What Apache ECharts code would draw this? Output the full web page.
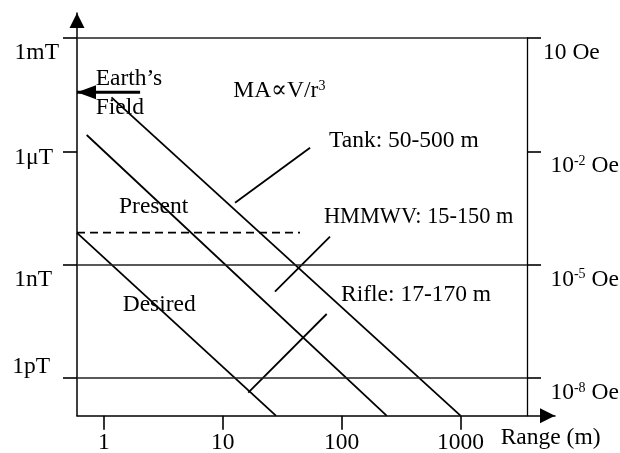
<!DOCTYPE html>
<html>
<head>
<meta charset="utf-8">
<script src="https://cdn.jsdelivr.net/npm/echarts@6/dist/echarts.min.js"></script>
<style>
  html, body { margin: 0; padding: 0; background: #fff; }
  #chart { width: 620px; height: 453px; }
</style>
</head>
<body>
<div id="chart"></div>
<script>
// ---- axis extents (range in metres, field in tesla) ----
const rangeLimits = [0.595, 3625];
const fieldLimits = [1e-13, 1e-3];

// ---- tick marks and their labels ----
const rangeTicks = [1, 10, 100, 1000];
const rangeTickLabels = ['1', '10', '100', '1000'];
const fieldTicks = [1e-12, 1e-9, 1e-6, 1e-3];
const teslaLabels = ['1pT', '1nT', '1\u03bcT', '1mT'];
const oerstedExponents = [-8, -5, -2, 1];

// ---- target anomaly fall-off, MA ∝ V/r³ ----
const rifleRange = [0.595, 28];
const rifleField = [6.9e-9, 1e-13];
const hmmwvRange = [0.718, 239];
const hmmwvField = [2.7e-6, 1e-13];
const tankRange = [1.16, 1000];
const tankField = [2.69e-5, 1e-13];

// ---- sensor sensitivity levels ----
const presentRange = [0.595, 44.7];
const presentField = [7.0e-9, 7.0e-9];
const referenceLevels = [1e-9, 1e-12];

// ---- Earth's field marker ----
const earthRange = [2.02, 0.595];
const earthField = [3.65e-5, 3.65e-5];

// ---- leader lines from the target captions ----
const tankLeaderRange = [54.3, 12.7];
const tankLeaderField = [1.25e-6, 4.36e-8];
const hmmwvLeaderRange = [79.9, 27.5];
const hmmwvLeaderField = [5.48e-9, 1.92e-10];
const rifleLeaderRange = [74.9, 16.4];
const rifleLeaderField = [4.93e-11, 4.06e-13];

const LOG = Math.log10;
const INK = '#000';
const FAMILY = '"Liberation Serif", "DejaVu Serif", serif';
const FS = 23.5;

// both axes are logarithmic: plot log10 of the values on linear value axes
const pair = (xs, ys) => xs.map((x, i) => [LOG(x), LOG(ys[i])]);
const xMin = LOG(rangeLimits[0]);
const xMax = LOG(rangeLimits[1]);
const yMin = LOG(fieldLimits[0]);
const yMax = LOG(fieldLimits[1]);

const lineSeries = (name, xs, ys, style) => ({
  type: 'line',
  name,
  xAxisIndex: 0,
  yAxisIndex: 0,
  data: pair(xs, ys),
  symbol: 'none',
  showSymbol: false,
  silent: true,
  animation: false,
  lineStyle: Object.assign({ color: INK, width: 1.8 }, style || {})
});

const tickStyle = { color: INK, width: 1.6 };
const noSplit = { show: false };

// per-label nudges of the tesla labels (vertical shift, right padding)
const teslaNudge = [[-11.5, 9], [15.7, 7], [6.5, 6], [15, 0]];
const teslaRich = {};
teslaNudge.forEach(([dy, pr], i) => {
  teslaRich['t' + i] = {
    fontSize: FS,
    fontFamily: FAMILY,
    color: INK,
    padding: dy >= 0 ? [2 * dy, pr, 0, 0] : [0, pr, -2 * dy, 0]
  };
});

const findIndex = (ticks, v) => ticks.findIndex(t => Math.abs(LOG(t) - v) < 1e-6);

const option = {
  backgroundColor: '#fff',
  animation: false,
  grid: [
    { left: 77, right: 93, top: 38, bottom: 37.3, containLabel: false, outerBoundsMode: 'none' },
    { left: 77, right: 65, top: 13, bottom: 37.3, containLabel: false, outerBoundsMode: 'none' }
  ],
  xAxis: [
    {
      gridIndex: 0,
      type: 'value',
      position: 'bottom',
      min: xMin,
      max: xMax,
      axisLine: { show: false, onZero: false },
      axisTick: { show: true, length: 14, lineStyle: tickStyle, customValues: rangeTicks.map(LOG) },
      axisLabel: {
        show: true,
        customValues: rangeTicks.map(LOG),
        margin: 15.4,
        fontSize: FS,
        fontFamily: FAMILY,
        color: INK,
        formatter: v => rangeTickLabels[findIndex(rangeTicks, v)]
      },
      splitLine: noSplit
    },
    {
      gridIndex: 1,
      type: 'value',
      position: 'bottom',
      min: 0,
      max: 1,
      axisLine: {
        show: true,
        onZero: false,
        symbol: ['none', 'triangle'],
        symbolSize: [15, 15],
        symbolOffset: [0, -7.5],
        lineStyle: { color: INK, width: 1.5 }
      },
      axisTick: { show: false },
      axisLabel: { show: false },
      splitLine: noSplit
    },
    {
      gridIndex: 0,
      type: 'value',
      position: 'top',
      min: xMin,
      max: xMax,
      axisLine: { show: true, onZero: false, lineStyle: { color: '#222', width: 1.5 } },
      axisTick: { show: false },
      axisLabel: { show: false },
      splitLine: noSplit
    }
  ],
  yAxis: [
    {
      gridIndex: 0,
      type: 'value',
      position: 'left',
      min: yMin,
      max: yMax,
      axisLine: { show: false, onZero: false },
      axisTick: { show: true, length: 14, lineStyle: tickStyle, customValues: fieldTicks.map(LOG) },
      axisLabel: {
        show: true,
        customValues: fieldTicks.map(LOG),
        margin: 18,
        align: 'right',
        fontSize: FS,
        fontFamily: FAMILY,
        color: INK,
        rich: teslaRich,
        formatter: v => {
          const i = findIndex(fieldTicks, v);
          return '{t' + i + '|' + teslaLabels[i] + '}';
        }
      },
      splitLine: noSplit
    },
    {
      gridIndex: 0,
      type: 'value',
      position: 'right',
      min: yMin,
      max: yMax,
      axisLine: { show: true, onZero: false, lineStyle: { color: INK, width: 1.3 } },
      axisTick: { show: true, length: 14, lineStyle: tickStyle, customValues: fieldTicks.map(LOG) },
      axisLabel: {
        show: true,
        customValues: fieldTicks.map(LOG),
        margin: 16,
        align: 'left',
        padding: [30, 0, 0, 0],
        fontSize: FS,
        fontFamily: FAMILY,
        color: INK,
        rich: {
          b: { fontSize: FS, fontFamily: FAMILY, color: INK },
          p: { fontSize: FS, fontFamily: FAMILY, color: INK, padding: [0, 0, 0, 7.4] },
          s: { fontSize: 14, fontFamily: FAMILY, color: INK, verticalAlign: 'top', lineHeight: 10 }
        },
        formatter: v => {
          const e = oerstedExponents[findIndex(fieldTicks, v)];
          return e === 1 ? '{b|10 Oe}' : '{p|10}{s|' + e + '}{b| Oe}';
        }
      },
      splitLine: noSplit
    },
    {
      gridIndex: 1,
      type: 'value',
      position: 'left',
      min: 0,
      max: 1,
      axisLine: {
        show: true,
        onZero: false,
        symbol: ['none', 'triangle'],
        symbolSize: [15, 15],
        symbolOffset: [0, -7.5],
        lineStyle: { color: INK, width: 1.5 }
      },
      axisTick: { show: false },
      axisLabel: { show: false },
      splitLine: noSplit
    }
  ],
  series: [
    Object.assign(lineSeries('Rifle', rifleRange, rifleField), {
      markLine: {
        silent: true,
        symbol: 'none',
        label: { show: false },
        animation: false,
        lineStyle: { color: '#222', width: 1.6, type: 'solid' },
        data: referenceLevels.map(v => ({ yAxis: LOG(v) }))
      }
    }),
    lineSeries('HMMWV', hmmwvRange, hmmwvField),
    lineSeries('Tank', tankRange, tankField),
    lineSeries('Present', presentRange, presentField, { type: [8, 5] }),
    lineSeries('Tank leader', tankLeaderRange, tankLeaderField),
    lineSeries('HMMWV leader', hmmwvLeaderRange, hmmwvLeaderField),
    lineSeries('Rifle leader', rifleLeaderRange, rifleLeaderField),
    {
      type: 'line',
      name: "Earth's field",
      xAxisIndex: 0,
      yAxisIndex: 0,
      silent: true,
      animation: false,
      clip: false,
      symbol: 'none',
      showSymbol: true,
      lineStyle: { color: INK, width: 3 },
      itemStyle: { color: INK },
      data: pair(earthRange, earthField).map((p, i) => i === 0
        ? { value: p, symbol: 'none' }
        : { value: p, symbol: 'triangle', symbolSize: [14, 19], symbolRotate: 90, symbolOffset: [9.5, 0] })
    }
  ],
  graphic: []
};

// free-standing captions
const caption = (text, x, y, extra) => Object.assign({
  type: 'text',
  x, y,
  silent: true,
  style: {
    text,
    fill: INK,
    font: FS + 'px ' + FAMILY,
    align: 'left',
    verticalAlign: 'middle'
  }
}, extra || {});

option.graphic = [
  caption('Earth\u2019s', 95.7, 79.2),
  caption('Field', 95.7, 107.8),
  {
    type: 'text',
    x: 233.3,
    y: 91,
    silent: true,
    style: {
      text: '{a|MA\u221dV/r}{s|3}',
      align: 'left',
      verticalAlign: 'middle',
      rich: {
        a: { fontSize: FS, fontFamily: FAMILY, fill: INK },
        s: { fontSize: 14, fontFamily: FAMILY, fill: INK, verticalAlign: 'top', lineHeight: 10 }
      }
    }
  },
  caption('Tank: 50-500 m', 329, 141),
  caption('HMMWV: 15-150 m', 324, 217.2, { scaleX: 0.95 }),
  caption('Rifle: 17-170 m', 341, 294.7),
  caption('Present', 119, 206.5),
  caption('Desired', 122.7, 305),
  // axis title for the range axis, set under the arrow head
  caption('Range (m)', 500.7, 437.8)
];

const chart = echarts.init(document.getElementById('chart'), null, { renderer: 'canvas' });
chart.setOption(option);
</script>
</body>
</html>
